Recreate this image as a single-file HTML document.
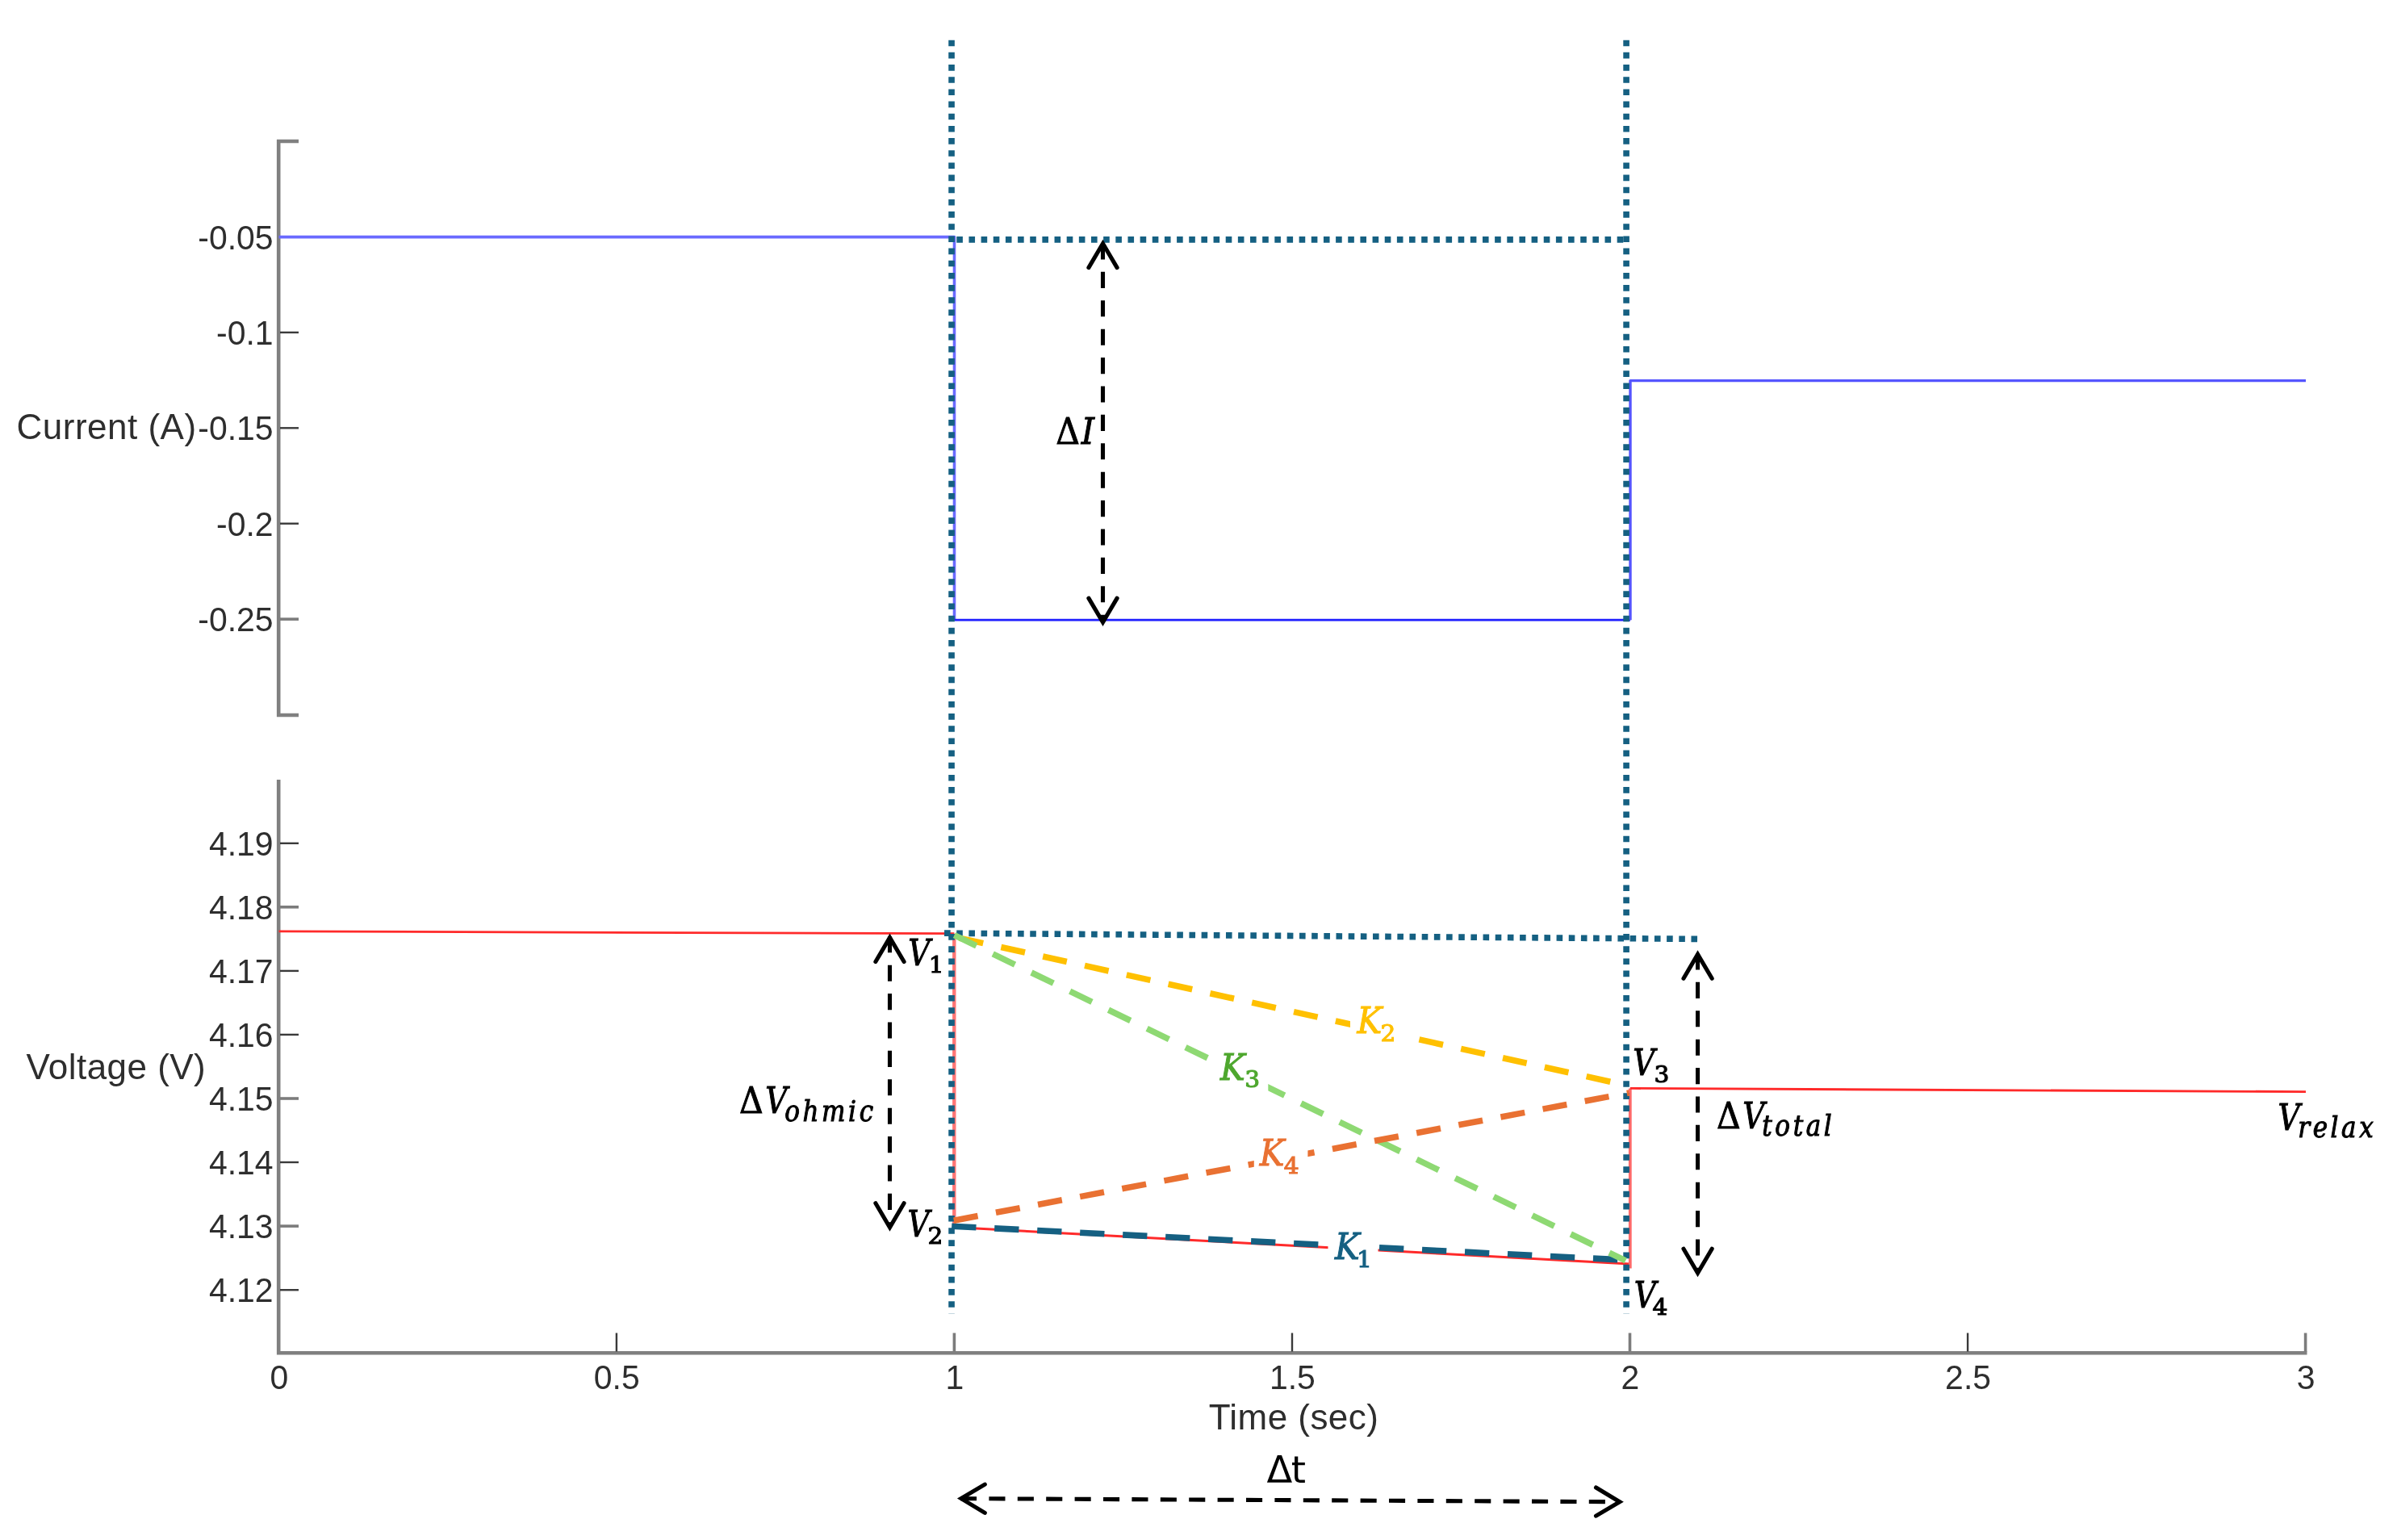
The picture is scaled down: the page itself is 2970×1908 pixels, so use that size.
<!DOCTYPE html>
<html lang="en"><head><meta charset="utf-8"><title>Pulse response</title>
<style>
html,body{margin:0;padding:0;background:#fff;}
body{width:2970px;height:1908px;overflow:hidden;}
svg{display:block;filter:blur(0.55px);}
.s{font-family:"Liberation Sans", sans-serif;fill:#2e2e2e;}
.m{font-family:"DejaVu Serif Condensed", "DejaVu Serif", "Liberation Serif", serif;}
.i{font-style:italic;}
.d{font-family:"DejaVu Serif",serif;}
</style></head><body>
<svg width="2970" height="1908" viewBox="0 0 2970 1908">
<rect width="2970" height="1908" fill="#fff"/>

<g fill="none" stroke="#808080" stroke-width="4.6">
<path d="M370 175 H345.2 V886 H370"/>
<path d="M345.2 966 V1676.3 H2858.5"/>
</g>
<g fill="none" stroke="#3a3a3a" stroke-width="2.4">
<path d="M347 411.9 H370" />
<path d="M347 530.3 H370" />
<path d="M347 648.7 H370" />
<path d="M347 767.1 H370" stroke="#7c7c7c" stroke-width="3.6"/>
<path d="M347 1044.8 H370" />
<path d="M347 1123.8 H370" stroke="#7c7c7c" stroke-width="3.6"/>
<path d="M347 1202.9 H370" />
<path d="M347 1281.9 H370" />
<path d="M347 1361.0 H370" stroke="#7c7c7c" stroke-width="3.6"/>
<path d="M347 1440.0 H370" />
<path d="M347 1519.1 H370" stroke="#7c7c7c" stroke-width="3.6"/>
<path d="M347 1598.2 H370" />
<path d="M763.9 1651.5 V1674.5" />
<path d="M1182.4 1651.5 V1674.5" stroke="#7c7c7c" stroke-width="3.6"/>
<path d="M1601.0 1651.5 V1674.5" />
<path d="M2019.5 1651.5 V1674.5" stroke="#7c7c7c" stroke-width="3.6"/>
<path d="M2438.1 1651.5 V1674.5" />
<path d="M2856.6 1651.5 V1674.5" stroke="#7c7c7c" stroke-width="3.6"/>
</g>
<g class="s" font-size="42" text-anchor="end" transform="scale(0.975 1)">
<text x="347.3" y="308.7">-0.05</text>
<text x="347.3" y="427.1">-0.1</text>
<text x="347.3" y="545.5">-0.15</text>
<text x="347.3" y="663.9">-0.2</text>
<text x="347.3" y="782.3">-0.25</text>
<text x="347.3" y="1060.0">4.19</text>
<text x="347.3" y="1139.0">4.18</text>
<text x="347.3" y="1218.1">4.17</text>
<text x="347.3" y="1297.2">4.16</text>
<text x="347.3" y="1376.2">4.15</text>
<text x="347.3" y="1455.2">4.14</text>
<text x="347.3" y="1534.3">4.13</text>
<text x="347.3" y="1613.3">4.12</text>
</g>
<g class="s" font-size="42" text-anchor="middle" transform="scale(0.975 1)">
<text x="354.7" y="1721">0</text>
<text x="783.9" y="1721">0.5</text>
<text x="1213.2" y="1721">1</text>
<text x="1642.5" y="1721">1.5</text>
<text x="2071.8" y="1721">2</text>
<text x="2501.1" y="1721">2.5</text>
<text x="2930.4" y="1721">3</text>
</g>
<g class="s" font-size="44">
<text x="20.5" y="544" letter-spacing="0.5">Current (A)</text>
<text x="32.5" y="1336.5" letter-spacing="0.45">Voltage (V)</text>
<text x="1603" y="1770.5" text-anchor="middle" letter-spacing="0.45">Time (sec)</text>
</g>
<g fill="none" stroke-linejoin="round">
<path d="M345.5 293.6 H1182.5 V768.2" stroke="#6a6aff" stroke-width="3.6"/>
<path d="M1182.5 768.2 H2020" stroke="#1e1eff" stroke-width="2.8"/>
<path d="M2020 768.2 V471.6 H2857" stroke="#5555ff" stroke-width="3.4"/>
<path d="M345.5 1153.9 L1182.3 1156.7" stroke="#ff2a2a" stroke-width="2.8"/>
<path d="M1182.3 1156.7 V1520.5" stroke="#ff7676" stroke-width="4.4"/>
<path d="M1182.3 1520.5 L2019.8 1566" stroke="#ff2a2a" stroke-width="3"/>
<path d="M2019.8 1571.5 V1348.4" stroke="#ff6a6a" stroke-width="3.8"/>
<path d="M2019.8 1348.4 L2857 1352.6" stroke="#ff2a2a" stroke-width="2.8"/>
</g>
<g fill="none" stroke="#156082" stroke-width="7.6">
<path d="M1179.05 49.7 V1627.7" stroke-dasharray="7.6 7.57"/>
<path d="M2015.1 49.7 V1627.7" stroke-dasharray="7.6 7.57"/>
<path d="M1185.3 296.9 H2012" stroke-dasharray="7.6 7.555"/>
<path d="M1170.05 1156.1 L2103.1 1163.4" stroke-dasharray="7.6 7.571"/>
</g>
<g fill="none" stroke-width="7.6">
<path d="M1179.2 1519.2 L2010 1560.95" stroke="#156082" stroke-dasharray="30.3 22.75"/>
<path d="M1188.6 1162.1 L1998.5 1340.9" stroke="#FFC000" stroke-dasharray="30.3 22.75"/>
<path d="M1182.5 1158.7 L2014.15 1561.9" stroke="#8ED973" stroke-dasharray="30.3 22.75"/>
<path d="M1181.8 1512.2 L2018.5 1353.9" stroke="#E97132" stroke-dasharray="30.3 22.75"/>
</g>
<g fill="none" stroke="#000" stroke-width="5.1" stroke-linecap="round" stroke-linejoin="miter" stroke-miterlimit="10">
<path d="M1366.5 301.45 V771.0" stroke-dasharray="20.1 15.3" stroke-linecap="butt"/>
<path d="M1348.9 331.6 L1366.5 301.7 L1384.1 331.6"/>
<path d="M1348.9 741.1 L1366.5 771.0 L1384.1 741.1"/>
<path d="M1102.5 1160.25 V1520.7" stroke-dasharray="20.1 15.3" stroke-linecap="butt"/>
<path d="M1084.9 1191.5 L1102.5 1161.6 L1120.1 1191.5"/>
<path d="M1084.9 1490.8 L1102.5 1520.7 L1120.1 1490.8"/>
<path d="M2103.55 1181.45 V1577.2" stroke-dasharray="20.1 15.3" stroke-linecap="butt"/>
<path d="M2086.0 1212.3 L2103.55 1182.4 L2121.2 1212.3"/>
<path d="M2086.0 1547.3 L2103.55 1577.2 L2121.2 1547.3"/>
<path d="M1190.0 1856.6 L2006.9 1860.7" stroke-dasharray="20.1 15.3" stroke-linecap="butt"/>
<path d="M1220.3 1839.15 L1190.8999999999999 1856.6 L1220.3 1874.35"/>
<path d="M1977.5 1842.95 L2006.9 1860.7 L1977.5 1878.1499999999999"/>
</g>
<text class="m" transform="translate(1308.3 550.3) scale(1 1)" font-size="45.7" fill="#000" stroke="#000" stroke-width="0.95">Δ</text><text class="m i" transform="translate(1339.8 550.3) scale(1 1)" font-size="45.7" fill="#000" stroke="#000" stroke-width="0.95">I</text>
<text class="m i" transform="translate(1125.3 1196) scale(0.915 1)" font-size="45.7" fill="#000" stroke="#000" stroke-width="0.95">V</text><text class="d" transform="translate(1150.7 1205.3) scale(1.04 1)" font-size="28.5" fill="#000" stroke="#000" stroke-width="1.1">1</text>
<text class="m i" transform="translate(1124.5 1532) scale(0.915 1)" font-size="45.7" fill="#000" stroke="#000" stroke-width="0.95">V</text><text class="d" transform="translate(1149.6 1541.3) scale(1.04 1)" font-size="28.5" fill="#000" stroke="#000" stroke-width="1.1">2</text>
<text class="m i" transform="translate(2023.3 1332) scale(0.915 1)" font-size="45.7" fill="#000" stroke="#000" stroke-width="0.95">V</text><text class="d" transform="translate(2049.6 1341.3) scale(1.04 1)" font-size="28.5" fill="#000" stroke="#000" stroke-width="1.1">3</text>
<text class="m i" transform="translate(2024.8 1619.5) scale(0.915 1)" font-size="45.7" fill="#000" stroke="#000" stroke-width="0.95">V</text><text class="d" transform="translate(2047.5 1628.8) scale(1.04 1)" font-size="28.5" fill="#000" stroke="#000" stroke-width="1.1">4</text>
<text class="m" transform="translate(916 1379.2) scale(1 1)" font-size="45.7" fill="#000" stroke="#000" stroke-width="0.95">Δ</text><text class="m i" transform="translate(948.2 1379.2) scale(0.915 1)" font-size="45.7" fill="#000" stroke="#000" stroke-width="0.95">V</text><text class="m i" transform="translate(972.2 1388.5) scale(1 1)" font-size="34.5" fill="#000" stroke="#000" stroke-width="0.95" letter-spacing="3.6">ohmic</text>
<text class="m" transform="translate(2127 1398) scale(1 1)" font-size="45.7" fill="#000" stroke="#000" stroke-width="0.95">Δ</text><text class="m i" transform="translate(2159.2 1398) scale(0.915 1)" font-size="45.7" fill="#000" stroke="#000" stroke-width="0.95">V</text><text class="m i" transform="translate(2183.3 1407.3) scale(1 1)" font-size="34.5" fill="#000" stroke="#000" stroke-width="0.95" letter-spacing="3.6">total</text>
<text class="m i" transform="translate(2822.5 1400) scale(0.915 1)" font-size="45.7" fill="#000" stroke="#000" stroke-width="0.95">V</text><text class="m i" transform="translate(2847.2 1409.3) scale(1 1)" font-size="34.5" fill="#000" stroke="#000" stroke-width="0.95" letter-spacing="3.6">relax</text>
<rect x="1673" y="1240" width="70" height="60" fill="#fff"/><text class="m i" transform="translate(1681.5 1280.2) scale(1 1)" font-size="45.7" fill="#FFC000" stroke="#FFC000" stroke-width="0.95">K</text><text class="d" transform="translate(1710.4 1289.5) scale(1.04 1)" font-size="28.5" fill="#FFC000" stroke="#FFC000" stroke-width="1.1">2</text>
<rect x="1505" y="1297" width="66.3" height="60" fill="#fff"/><text class="m i" transform="translate(1512 1337.7) scale(1 1)" font-size="45.7" fill="#4EA72E" stroke="#4EA72E" stroke-width="0.95">K</text><text class="d" transform="translate(1542.2 1347.0) scale(1.04 1)" font-size="28.5" fill="#4EA72E" stroke="#4EA72E" stroke-width="1.1">3</text>
<rect x="1553.8" y="1404" width="66.6" height="58" fill="#fff"/><text class="m i" transform="translate(1560.7 1444.2) scale(1 1)" font-size="45.7" fill="#E97132" stroke="#E97132" stroke-width="0.95">K</text><text class="d" transform="translate(1590.7 1453.5) scale(1.04 1)" font-size="28.5" fill="#E97132" stroke="#E97132" stroke-width="1.1">4</text>
<rect x="1645.5" y="1520" width="62" height="58" fill="#fff"/><text class="m i" transform="translate(1653.9 1560.4) scale(1 1)" font-size="45.7" fill="#156082" stroke="#156082" stroke-width="0.95">K</text><text class="d" transform="translate(1681 1569.7) scale(1.04 1)" font-size="28.5" fill="#156082" stroke="#156082" stroke-width="1.1">1</text>
<text x="1569.5" y="1836.8" font-family='"DejaVu Sans", "Liberation Sans", sans-serif' font-size="46.5" fill="#000" letter-spacing="-1.5">Δt</text>
</svg></body></html>
